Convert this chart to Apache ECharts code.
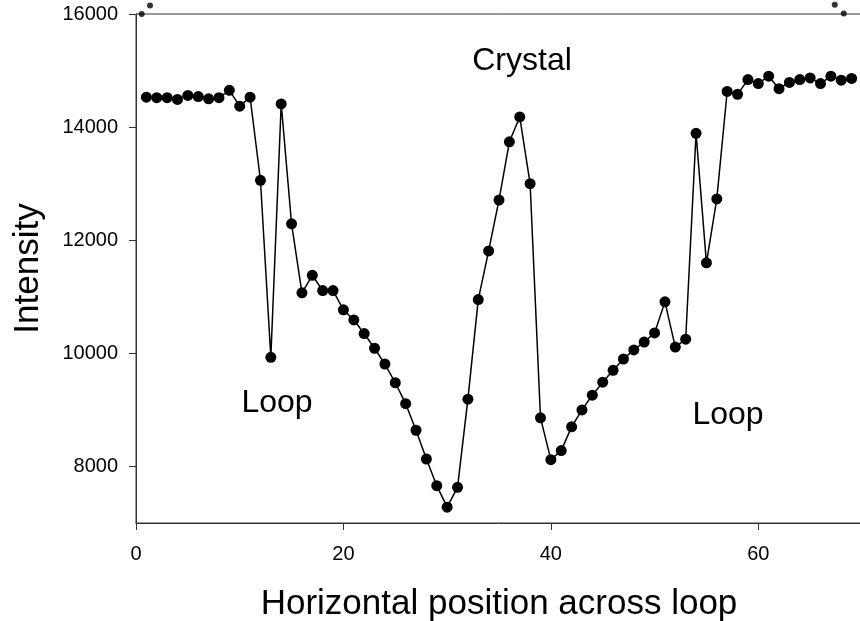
<!DOCTYPE html>
<html>
<head>
<meta charset="utf-8">
<script src="https://cdn.jsdelivr.net/npm/echarts@6/dist/echarts.min.js"></script>
<style>
  html, body { margin: 0; padding: 0; background: #fff; }
  #chart { width: 860px; height: 621px; }
</style>
</head>
<body>
<div id="chart"></div>
<script>
var positions = [1, 2, 3, 4, 5, 6, 7, 8, 9, 10, 11, 12, 13, 14, 15, 16, 17, 18, 19, 20,
  21, 22, 23, 24, 25, 26, 27, 28, 29, 30, 31, 32, 33, 34, 35, 36, 37, 38, 39, 40,
  41, 42, 43, 44, 45, 46, 47, 48, 49, 50, 51, 52, 53, 54, 55, 56, 57, 58, 59, 60,
  61, 62, 63, 64, 65, 66, 67, 68, 69];
var intensity = [14530, 14520, 14520, 14490, 14560, 14540, 14500, 14520, 14650, 14370,
  14530, 13060, 9930, 14410, 12290, 11070, 11380, 11110, 11110, 10770,
  10590, 10350, 10090, 9810, 9480, 9110, 8640, 8130, 7660, 7280,
  7630, 9190, 10950, 11810, 12710, 13740, 14180, 13000, 8860, 8120,
  8280, 8700, 9000, 9260, 9490, 9700, 9900, 10060, 10200, 10360,
  10910, 10110, 10250, 13890, 11600, 12730, 14630, 14580, 14840, 14770,
  14900, 14680, 14790, 14840, 14870, 14770, 14900, 14830, 14860];
// small off-scale markers sitting on the top frame
var offscaleX = [0.55, 1.35, 67.37, 68.24];
var offscaleY = [16000, 16150, 16165, 16010];
var xTicks = [0, 20, 40, 60];
var yTicks = [8000, 10000, 12000, 14000, 16000];

var font = "'Liberation Sans', Arial, sans-serif";
var chart = echarts.init(document.getElementById("chart"));

function plain(v) {
  return String(v);
}

chart.setOption({
  animation: false,
  backgroundColor: "#fff",
  grid: {
    left: 136,
    top: 14,
    width: 726,
    height: 509,
    outerBoundsMode: "none",
    show: true,
    borderColor: "#333",
    borderWidth: 1
  },
  xAxis: {
    type: "value",
    min: 0,
    max: 70,
    name: "Horizontal position across loop",
    nameLocation: "middle",
    nameGap: 64,
    nameTextStyle: { fontSize: 35, fontFamily: font, color: "#000" },
    axisLine: { show: true, lineStyle: { color: "#333", width: 1 } },
    axisTick: { show: true, length: 7, customValues: xTicks, lineStyle: { color: "#333" } },
    axisLabel: { customValues: xTicks, formatter: plain, fontSize: 20, fontFamily: font, color: "#000", margin: 21 },
    splitLine: { show: false }
  },
  yAxis: {
    type: "value",
    min: 7000,
    max: 16000,
    name: "Intensity",
    nameLocation: "middle",
    nameGap: 90,
    nameTextStyle: { fontSize: 35, fontFamily: font, color: "#000" },
    axisLine: { show: true, lineStyle: { color: "#333", width: 1 } },
    axisTick: { show: true, length: 7, customValues: yTicks, lineStyle: { color: "#333" } },
    axisLabel: { customValues: yTicks, formatter: plain, fontSize: 20, fontFamily: font, color: "#000", margin: 18 },
    splitLine: { show: false }
  },
  graphic: [
    { type: "text", x: 522, y: 61, style: { text: "Crystal", fontSize: 32, fontFamily: font, fill: "#000", align: "center", verticalAlign: "middle" } },
    { type: "text", x: 277, y: 403, style: { text: "Loop", fontSize: 32, fontFamily: font, fill: "#000", align: "center", verticalAlign: "middle" } },
    { type: "text", x: 728, y: 415, style: { text: "Loop", fontSize: 32, fontFamily: font, fill: "#000", align: "center", verticalAlign: "middle" } }
  ],
  series: [
    {
      name: "Intensity",
      type: "line",
      data: positions.map(function (p, i) { return [p, intensity[i]]; }),
      symbol: "circle",
      symbolSize: 11,
      showAllSymbol: true,
      lineStyle: { color: "#000", width: 1.5 },
      itemStyle: { color: "#000" }
    },
    {
      name: "offscale",
      type: "scatter",
      data: offscaleX.map(function (p, i) { return [p, offscaleY[i]]; }),
      symbol: "circle",
      symbolSize: 6,
      clip: false,
      itemStyle: { color: "#000" }
    }
  ]
});
</script>
</body>
</html>
